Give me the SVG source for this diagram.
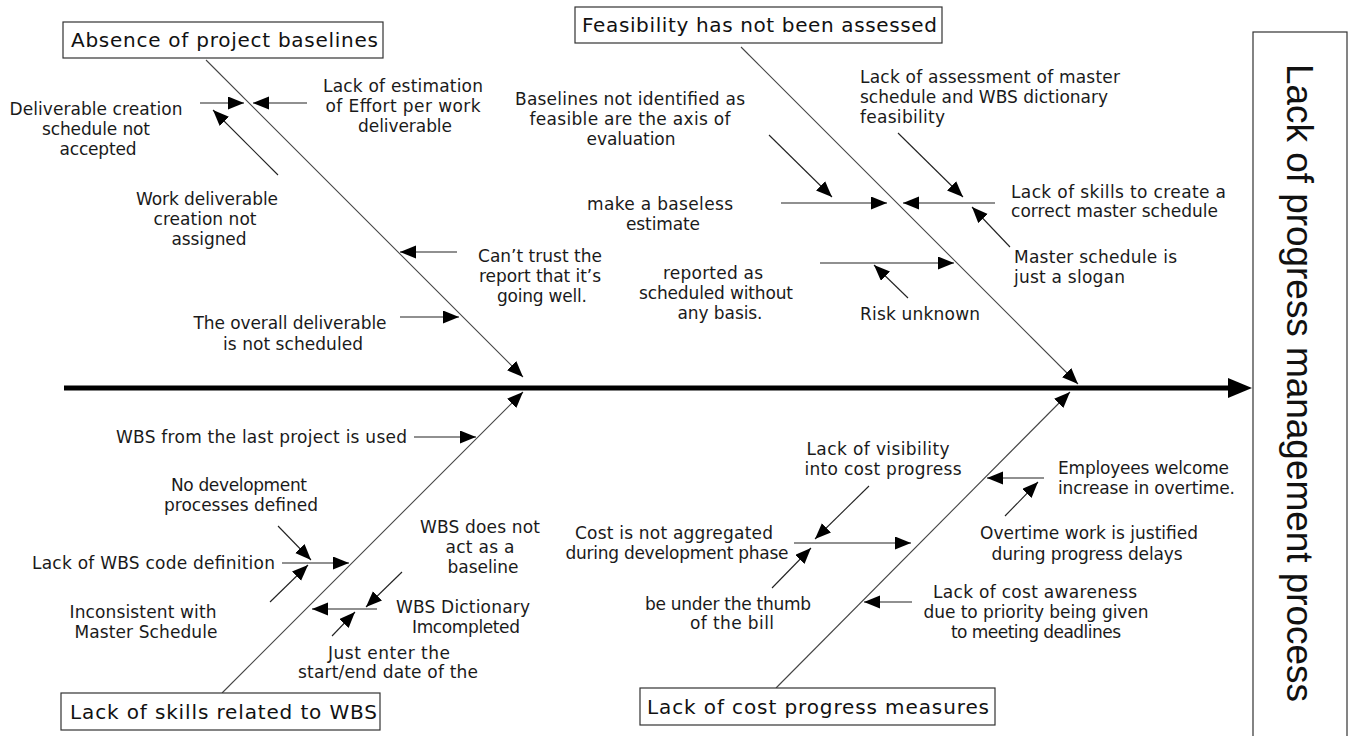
<svg xmlns="http://www.w3.org/2000/svg" width="1348" height="736" viewBox="0 0 1348 736">
<style>
.t{font-family:"DejaVu Sans","Liberation Sans",sans-serif;font-size:17px;fill:#1a1a1a}
.c{text-anchor:middle}
.h{font-family:"DejaVu Sans","Liberation Sans",sans-serif;font-size:20px;fill:#111}
.box{fill:#fff;stroke:#333;stroke-width:1.2}
.bone{stroke:#444;stroke-width:1.1;fill:none}
.sub{stroke:#222;stroke-width:1.1;fill:none;marker-end:url(#ah)}
.big{font-family:"Liberation Sans",Arial,sans-serif;font-size:37px;fill:#111;text-anchor:middle}
</style>
<defs>
<marker id="ah" markerUnits="userSpaceOnUse" markerWidth="18" markerHeight="14" refX="16" refY="6.5" orient="auto"><path d="M0,0 L16,6.5 L0,13 z" fill="#000"/></marker>
<marker id="ahs" markerUnits="userSpaceOnUse" markerWidth="30" markerHeight="22" refX="8" refY="10" orient="auto"><path d="M0,0 L24,10 L0,20 z" fill="#000"/></marker>
</defs>
<rect width="1348" height="736" fill="#fff"/>

<g id="connectors">
<line x1="64" y1="388" x2="1236" y2="388" stroke="#000" stroke-width="5" marker-end="url(#ahs)"/>
<!-- main bones -->
<line class="bone" x1="206" y1="60" x2="523" y2="377" marker-end="url(#ah)"/>
<line class="bone" x1="741" y1="47" x2="1078" y2="384" marker-end="url(#ah)"/>
<line class="bone" x1="222" y1="693" x2="523" y2="392" marker-end="url(#ah)"/>
<line class="bone" x1="776" y1="688" x2="1070" y2="392" marker-end="url(#ah)"/>
<!-- upper-left -->
<line class="sub" x1="307" y1="103" x2="253" y2="103"/>
<line class="sub" x1="200" y1="103" x2="244" y2="103"/>
<line class="sub" x1="278" y1="175" x2="213" y2="110"/>
<line class="sub" x1="457" y1="252" x2="400" y2="252"/>
<line class="sub" x1="400" y1="317" x2="459" y2="317"/>
<!-- upper-right -->
<line class="sub" x1="769" y1="135" x2="832" y2="197"/>
<line class="sub" x1="781" y1="203" x2="887" y2="203"/>
<line class="sub" x1="995" y1="203" x2="903" y2="203"/>
<line class="sub" x1="898" y1="133" x2="963" y2="197"/>
<line class="sub" x1="1010" y1="247" x2="972" y2="207"/>
<line class="sub" x1="820" y1="263" x2="954" y2="263"/>
<line class="sub" x1="908" y1="298" x2="874" y2="265"/>
<!-- lower-left -->
<line class="sub" x1="414" y1="437" x2="476" y2="437"/>
<line class="sub" x1="278" y1="526" x2="311" y2="560"/>
<line class="sub" x1="282" y1="563" x2="349" y2="563"/>
<line class="sub" x1="270" y1="602" x2="308" y2="565"/>
<line class="sub" x1="402" y1="572" x2="366" y2="607"/>
<line class="sub" x1="377" y1="609" x2="312" y2="609"/>
<line class="sub" x1="332" y1="636" x2="355" y2="612"/>
<!-- lower-right -->
<line class="sub" x1="869" y1="486" x2="815" y2="539"/>
<line class="sub" x1="794" y1="543" x2="911" y2="543"/>
<line class="sub" x1="772" y1="588" x2="811" y2="548"/>
<line class="sub" x1="1044" y1="478" x2="987" y2="478"/>
<line class="sub" x1="1005" y1="516" x2="1038" y2="482"/>
<line class="sub" x1="912" y1="602" x2="864" y2="602"/>
</g>

<g id="effect">
<rect class="box" x="1253" y="32" width="94" height="710"/>
<text class="big" transform="translate(1287,383) rotate(90)" textLength="638" lengthAdjust="spacing">Lack of progress management process</text>
</g>

<g id="cat-baselines">
<rect class="box" x="63" y="22" width="320" height="36"/>
<text class="h" x="71" y="47" textLength="307">Absence of project baselines</text>
</g>
<g id="cat-feasibility">
<rect class="box" x="575" y="7" width="367" height="36"/>
<text class="h" x="582" y="32" textLength="355">Feasibility has not been assessed</text>
</g>
<g id="cat-wbs">
<rect class="box" x="61" y="693" width="319" height="37"/>
<text class="h" x="70" y="719" textLength="307">Lack of skills related to WBS</text>
</g>
<g id="cat-cost">
<rect class="box" x="640" y="688" width="355" height="37"/>
<text class="h" x="647" y="714" textLength="342">Lack of cost progress measures</text>
</g>

<g id="n-effort">
<text class="t c" x="403" y="92" textLength="160">Lack of estimation</text>
<text class="t c" x="403" y="112" textLength="155">of Effort per work</text>
<text class="t c" x="405" y="132" textLength="94">deliverable</text>
</g>
<g id="n-deliv-sched">
<text class="t c" x="96" y="115" textLength="173">Deliverable creation</text>
<text class="t c" x="96" y="135" textLength="108">schedule not</text>
<text class="t c" x="98" y="155" textLength="77">accepted</text>
</g>
<g id="n-work-deliv">
<text class="t c" x="207" y="205" textLength="142">Work deliverable</text>
<text class="t c" x="205" y="225" textLength="103">creation not</text>
<text class="t c" x="209" y="245" textLength="75">assigned</text>
</g>
<g id="n-trust">
<text class="t c" x="540" y="262" textLength="124">Can’t trust the</text>
<text class="t c" x="540" y="282" textLength="122">report that it’s</text>
<text class="t c" x="542" y="302" textLength="90">going well.</text>
</g>
<g id="n-overall">
<text class="t c" x="290" y="329" textLength="193">The overall deliverable</text>
<text class="t c" x="293" y="350" textLength="140">is not scheduled</text>
</g>

<g id="n-baselines-axis">
<text class="t c" x="630" y="105" textLength="230">Baselines not identified as</text>
<text class="t c" x="630" y="125" textLength="201">feasible are the axis of</text>
<text class="t c" x="631" y="145" textLength="89">evaluation</text>
</g>
<g id="n-baseless">
<text class="t c" x="660" y="210" textLength="146">make a baseless</text>
<text class="t c" x="663" y="230" textLength="74">estimate</text>
</g>
<g id="n-reported">
<text class="t c" x="713" y="279" textLength="100">reported as</text>
<text class="t c" x="716" y="299" textLength="154">scheduled without</text>
<text class="t c" x="720" y="319" textLength="85">any basis.</text>
</g>
<g id="n-risk">
<text class="t" x="860" y="320" textLength="120">Risk unknown</text>
</g>
<g id="n-assess">
<text class="t" x="860" y="83" textLength="260">Lack of assessment of master</text>
<text class="t" x="860" y="103" textLength="248">schedule and WBS dictionary</text>
<text class="t" x="860" y="123" textLength="85">feasibility</text>
</g>
<g id="n-skills-ms">
<text class="t" x="1011" y="198" textLength="215">Lack of skills to create a</text>
<text class="t" x="1011" y="217" textLength="207">correct master schedule</text>
</g>
<g id="n-slogan">
<text class="t" x="1014" y="263" textLength="163">Master schedule is</text>
<text class="t" x="1014" y="283" textLength="111">just a slogan</text>
</g>

<g id="n-last-wbs">
<text class="t" x="116" y="443" textLength="291">WBS from the last project is used</text>
</g>
<g id="n-no-dev">
<text class="t c" x="239" y="491" textLength="136">No development</text>
<text class="t c" x="241" y="511" textLength="154">processes defined</text>
</g>
<g id="n-wbs-code">
<text class="t" x="32" y="569" textLength="243">Lack of WBS code definition</text>
</g>
<g id="n-inconsistent">
<text class="t c" x="143" y="618" textLength="147">Inconsistent with</text>
<text class="t c" x="146" y="638" textLength="143">Master Schedule</text>
</g>
<g id="n-not-baseline">
<text class="t c" x="480" y="533" textLength="120">WBS does not</text>
<text class="t c" x="480" y="553" textLength="69">act as a</text>
<text class="t c" x="483" y="573" textLength="71">baseline</text>
</g>
<g id="n-dictionary">
<text class="t c" x="463" y="613" textLength="134">WBS Dictionary</text>
<text class="t c" x="466" y="633" textLength="108">Imcompleted</text>
</g>
<g id="n-just-enter">
<text class="t c" x="389" y="659" textLength="122">Just enter the</text>
<text class="t c" x="388" y="678" textLength="180">start/end date of the</text>
</g>

<g id="n-visibility">
<text class="t c" x="878" y="455" textLength="143">Lack of visibility</text>
<text class="t c" x="883" y="475" textLength="157">into cost progress</text>
</g>
<g id="n-aggregated">
<text class="t c" x="674" y="539" textLength="198">Cost is not aggregated</text>
<text class="t c" x="677" y="559" textLength="223">during development phase</text>
</g>
<g id="n-thumb">
<text class="t c" x="728" y="610" textLength="166">be under the thumb</text>
<text class="t c" x="732" y="629" textLength="84">of the bill</text>
</g>
<g id="n-welcome">
<text class="t" x="1058" y="474" textLength="171">Employees welcome</text>
<text class="t" x="1058" y="494" textLength="177">increase in overtime.</text>
</g>
<g id="n-overtime">
<text class="t c" x="1089" y="539" textLength="218">Overtime work is justified</text>
<text class="t c" x="1087" y="560" textLength="191">during progress delays</text>
</g>
<g id="n-awareness">
<text class="t c" x="1035" y="598" textLength="204">Lack of cost awareness</text>
<text class="t c" x="1036" y="618" textLength="225">due to priority being given</text>
<text class="t c" x="1036" y="638" textLength="170">to meeting deadlines</text>
</g>
</svg>
